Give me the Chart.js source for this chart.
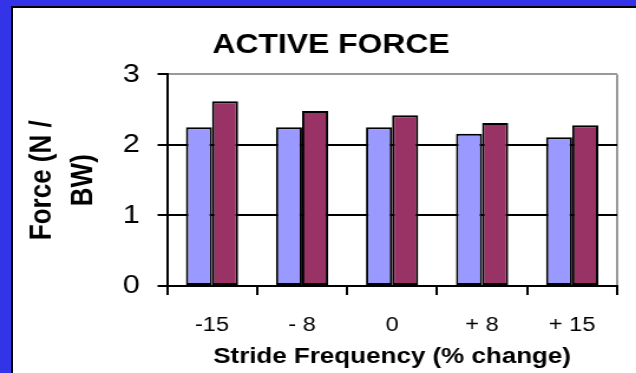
<!DOCTYPE html>
<html>
<head>
<meta charset="utf-8">
<script src="https://cdn.jsdelivr.net/npm/chart.js@4"></script>
<style>
  body { margin: 0; background: #fff; }
  #frame {
    width: 636px;
    height: 373px;
    box-sizing: border-box;
    border-top: 6px solid #3333e8;
    border-left: 11px solid #3333e8;
  }
  #inner {
    height: 100%;
    box-sizing: border-box;
    border-top: 2px solid #000;
    border-left: 2px solid #000;
    background: #fff;
    overflow: hidden;
  }
  /* the original picture is stretched sideways, so the chart is too */
  #wrap {
    width: 539px;
    height: 365px;
    transform: scaleX(1.18);
    transform-origin: 0 0;
  }
</style>
</head>
<body>
<div id="frame">
  <div id="inner">
    <div id="wrap"><canvas id="chart"></canvas></div>
  </div>
</div>
<script>
const categories = ["-15", "- 8", "0", "+ 8", "+ 15"];
const seriesA = [2.25, 2.25, 2.25, 2.16, 2.11];
const seriesB = [2.62, 2.48, 2.42, 2.31, 2.28];
const yTicks = [0, 1, 2, 3];

const FONT = "'Liberation Sans', Arial, sans-serif";

Chart.defaults.color = "#000";
Chart.defaults.font.family = FONT;

const ctx = document.getElementById("chart").getContext("2d");

new Chart(ctx, {
  type: "bar",
  data: {
    labels: categories,
    datasets: [
      {
        label: "A",
        data: seriesA,
        backgroundColor: "#9999ff",
        borderColor: "#000",
        borderWidth: 2,
        borderSkipped: false,
        barPercentage: 1,
        categoryPercentage: 0.58,
      },
      {
        label: "B",
        data: seriesB,
        backgroundColor: "#993366",
        borderColor: "#000",
        borderWidth: 2,
        borderSkipped: false,
        barPercentage: 1,
        categoryPercentage: 0.58,
      },
    ],
  },
  options: {
    responsive: true,
    maintainAspectRatio: false,
    animation: false,
    layout: {
      // left padding keeps the title centred where the original has it
      padding: { left: 27, right: 27, top: 0, bottom: 0 },
    },
    plugins: {
      legend: { display: false },
      tooltip: { enabled: false },
      title: {
        display: true,
        text: "ACTIVE FORCE",
        color: "#000",
        font: { family: FONT, size: 27, weight: "bold" },
        padding: { top: 21, bottom: 13 },
      },
    },
    scales: {
      x: {
        grid: {
          offset: true,
          drawOnChartArea: true,
          color: (c) => (c.type === "tick" ? "rgba(0,0,0,0)" : "#999999"),
          tickColor: "#000",
          tickLength: 9,
          lineWidth: 2,
        },
        border: { color: "#000", width: 2 },
        ticks: {
          color: "#000",
          padding: 18,
          font: { family: FONT, size: 20 },
        },
        title: {
          display: true,
          text: "Stride Frequency (% change)",
          color: "#000",
          font: { family: FONT, size: 22, weight: "bold" },
          padding: { top: 5, bottom: 3 },
        },
        afterFit: (scale) => {
          scale.height = 87;
        },
      },
      y: {
        min: 0,
        max: 3,
        afterBuildTicks: (scale) => {
          scale.ticks = yTicks.map((v) => ({ value: v }));
        },
        grid: {
          color: (c) => (c.tick && c.tick.value === 3 ? "#999999" : "#000"),
          tickColor: "#000",
          tickLength: 8,
          lineWidth: 2,
        },
        border: { color: "#000", width: 2 },
        ticks: {
          color: "#000",
          padding: 15,
          font: { family: FONT, size: 26 },
        },
        title: {
          display: true,
          text: ["Force (N /", "BW)"],
          color: "#000",
          font: { family: FONT, size: 26, weight: "bold", lineHeight: 1.335 },
          padding: { top: -19.5, bottom: 0 },
        },
        afterFit: (scale) => {
          scale.width = 103.5;
        },
      },
    },
  },
});
</script>
</body>
</html>
